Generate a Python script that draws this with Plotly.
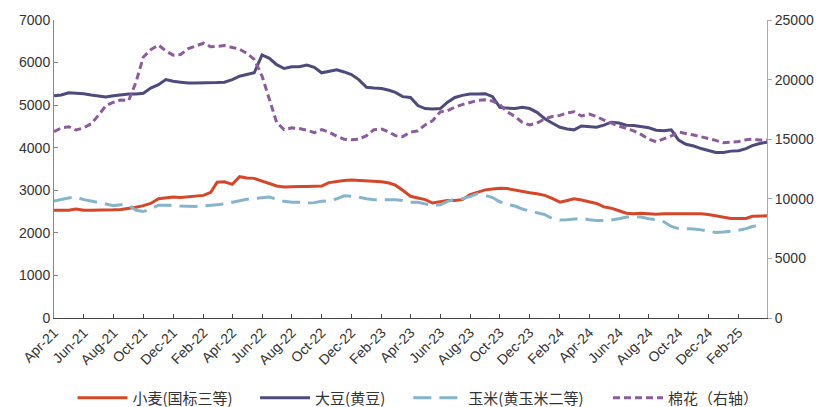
import pandas as pd
import plotly.graph_objects as go

# semi-monthly dates: 1st and 16th of each month, Apr-2021 .. Mar-2025, plus end
dates = []
for m in pd.date_range("2021-04-01", "2025-03-01", freq="MS"):
    dates.append(m.strftime("%Y-%m-%d"))
    dates.append((m + pd.Timedelta(days=15)).strftime("%Y-%m-%d"))
dates.append("2025-03-31")

wheat = [2530, 2530, 2530, 2560, 2530, 2530, 2530, 2530, 2540, 2550, 2570, 2600,
         2640, 2690, 2800, 2820, 2840, 2830, 2850, 2860, 2880, 2950, 3190, 3200,
         3140, 3320, 3290, 3280, 3220, 3150, 3100, 3080, 3090, 3090, 3090, 3090,
         3100, 3180, 3210, 3230, 3240, 3230, 3210, 3200, 3200, 3170, 3120, 3000,
         2860, 2820, 2780, 2700, 2740, 2760, 2760, 2780, 2900, 2950, 3010, 3030,
         3050, 3040, 3000, 2980, 2940, 2920, 2880, 2810, 2720, 2760, 2800, 2770,
         2720, 2690, 2610, 2580, 2520, 2460, 2450, 2460, 2450, 2440, 2450, 2450,
         2450, 2460, 2460, 2450, 2430, 2400, 2360, 2340, 2340, 2340, 2390, 2400,
         2400]

soybean = [5220, 5240, 5290, 5280, 5270, 5240, 5220, 5190, 5220, 5240, 5260, 5260,
           5280, 5400, 5480, 5600, 5560, 5540, 5520, 5520, 5520, 5530, 5530, 5540,
           5600, 5680, 5720, 5760, 6180, 6100, 5950, 5860, 5900, 5900, 5940, 5890,
           5760, 5800, 5830, 5780, 5720, 5600, 5420, 5400, 5390, 5350, 5300, 5200,
           5180, 4990, 4920, 4910, 4920, 5070, 5180, 5230, 5260, 5260, 5270, 5200,
           4950, 4930, 4920, 4950, 4920, 4830, 4680, 4580, 4480, 4440, 4420, 4510,
           4500, 4480, 4530, 4600, 4580, 4530, 4520, 4500, 4470, 4410, 4400, 4420,
           4180, 4080, 4040, 3980, 3930, 3890, 3890, 3920, 3930, 3980, 4050, 4100,
           4130]

corn = [2750, 2790, 2820, 2840, 2780, 2750, 2710, 2670, 2640, 2660, 2650, 2530,
        2500, 2560, 2650, 2650, 2650, 2630, 2620, 2620, 2630, 2640, 2660, 2680,
        2720, 2760, 2790, 2810, 2820, 2840, 2790, 2740, 2720, 2720, 2700, 2710,
        2740, 2750, 2800, 2870, 2860, 2840, 2800, 2780, 2780, 2780, 2780, 2760,
        2720, 2720, 2680, 2640, 2660, 2740, 2790, 2800, 2850, 2920, 2880, 2830,
        2730, 2670, 2630, 2560, 2510, 2470, 2430, 2340, 2300, 2310, 2320, 2340,
        2310, 2290, 2290, 2300, 2330, 2370, 2380, 2370, 2330, 2310, 2260, 2150,
        2100, 2100, 2090, 2070, 2040, 2010, 2020, 2040, 2060, 2100, 2150, 2180,
        None]

cotton = [15630, 15950, 16050, 15770, 15950, 16300, 17000, 17800, 18100, 18290, 18250, 19800,
          21900, 22500, 22900, 22400, 22050, 22100, 22600, 22800, 23050, 22750, 22800, 22850,
          22700, 22550, 22200, 21700, 20300, 18400, 16400, 15800, 15950, 15900, 15760, 15550,
          15800, 15600, 15250, 15000, 14950, 15000, 15300, 15800, 15850, 15600, 15300, 15220,
          15600, 15700, 16200, 16550, 17300, 17400, 17700, 17900, 18100, 18250, 18300, 18200,
          17900, 17300, 16900, 16400, 16200, 16350, 16700, 16900, 17000, 17200, 17300, 16950,
          17100, 16900, 16600, 16330, 16100, 15900, 15700, 15400, 15000, 14780, 15000, 15270,
          15600, 15500, 15350, 15200, 15070, 14900, 14700, 14750, 14800, 14950, 15000, 14930,
          14930]

names = ["小麦(国标三等)", "大豆(黄豆)", "玉米(黄玉米二等)", "棉花（右轴）"]
legend_x = [0.026, 0.282, 0.497, 0.777]

fig = go.Figure()
fig.add_trace(go.Scatter(x=dates, y=wheat, name=names[0], mode="lines", legend="legend",
                         line=dict(color="#D6472A", width=3)))
fig.add_trace(go.Scatter(x=dates, y=soybean, name=names[1], mode="lines", legend="legend2",
                         line=dict(color="#4E4B7C", width=3)))
fig.add_trace(go.Scatter(x=dates, y=corn, name=names[2], mode="lines", legend="legend3",
                         line=dict(color="#86B5CB", width=3, dash="18px,8px")))
fig.add_trace(go.Scatter(x=dates, y=cotton, name=names[3], mode="lines", yaxis="y2",
                         legend="legend4",
                         line=dict(color="#8B5C9C", width=3, dash="7px,4px")))

legfont = dict(family="Noto Sans CJK SC", size=15, color="#333333")


def leg(x):
    return dict(orientation="h", x=x, xanchor="left", yref="container",
                y=0.022, yanchor="middle",
                font=legfont, itemwidth=50, bgcolor="rgba(0,0,0,0)")


tickfont = dict(family="Liberation Sans, Arial", size=14, color="#333333")
fig.update_layout(
    width=822, height=407,
    margin=dict(l=54, r=55, t=20, b=89),
    paper_bgcolor="white", plot_bgcolor="white",
    showlegend=True,
    legend=leg(legend_x[0]), legend2=leg(legend_x[1]),
    legend3=leg(legend_x[2]), legend4=leg(legend_x[3]),
    xaxis=dict(type="date", range=["2021-04-01", "2025-03-31"],
               tick0="2021-04-01", dtick="M2", tickformat="%b-%y",
               tickangle=-45, tickfont=tickfont, automargin=False,
               showline=True, linecolor="#444444", linewidth=1,
               ticks="inside", ticklen=4, tickcolor="#444444",
               showgrid=False, zeroline=False),
    yaxis=dict(range=[0, 7000], dtick=1000, tickfont=tickfont, automargin=False,
               showline=True, linecolor="#888888", linewidth=1,
               ticks="inside", ticklen=4, tickcolor="#888888",
               showgrid=False, zeroline=False),
    yaxis2=dict(range=[0, 25000], dtick=5000, tickfont=tickfont, automargin=False,
                tickformat="d", overlaying="y", side="right",
                showline=True, linecolor="#aaaaaa", linewidth=1,
                ticks="outside", ticklen=4, tickcolor="#aaaaaa",
                showgrid=False, zeroline=False),
)

fig.write_html("out.html", config={"displayModeBar": False},
               post_script="document.body.style.margin='0';document.body.style.overflow='hidden';")
